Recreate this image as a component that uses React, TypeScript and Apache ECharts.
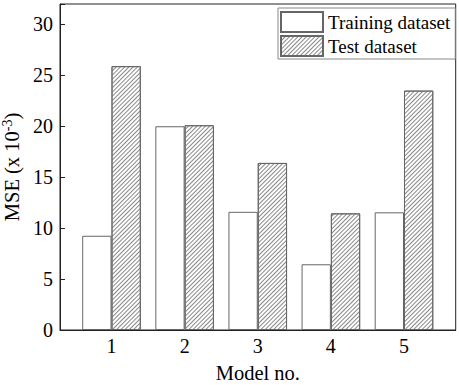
import React, { useEffect, useRef } from "react";
import * as echarts from "echarts";

const categories = ["1", "2", "3", "4", "5"];
const trainingValues = [9.25, 20.0, 11.6, 6.45, 11.55];
const testValues = [25.9, 20.1, 16.4, 11.45, 23.5];
const yTickValues = [0, 5, 10, 15, 20, 25, 30];

const FONT = "'Liberation Serif', 'Times New Roman', serif";

export default function App() {
  const ref = useRef<HTMLDivElement>(null);
  useEffect(() => {
    if (!ref.current) return;
    const chart = echarts.init(ref.current, undefined, { renderer: "svg" });
    const plotTop = 4;
    const plotHeight = 326;
    chart.setOption({
      animation: false,
      backgroundColor: "#fff",
      textStyle: { fontFamily: FONT },
      grid: [
        {
          left: 60,
          top: plotTop,
          width: 395.7,
          height: plotHeight,
          show: true,
          borderColor: "#222",
          borderWidth: 1,
          backgroundColor: "transparent",
          containLabel: false,
          outerBoundsMode: "none",
        },
        {
          left: 74.95,
          top: plotTop,
          width: 365.6,
          height: plotHeight,
          containLabel: false,
          outerBoundsMode: "none",
        },
      ],
      xAxis: [
        {
          gridIndex: 0,
          type: "value",
          min: 0,
          max: 1,
          axisLine: { show: true, lineStyle: { color: "#222", width: 1 } },
          axisTick: { show: false },
          axisLabel: { show: false },
          splitLine: { show: false },
          name: "Model no.",
          nameLocation: "middle",
          nameGap: 32.5,
          nameTextStyle: { fontSize: 20.5, color: "#000", fontFamily: FONT },
        },
        {
          gridIndex: 1,
          type: "category",
          data: categories,
          axisLine: { show: false },
          axisTick: { show: false },
          axisLabel: { margin: 6, fontSize: 20, color: "#000", fontFamily: FONT },
          splitLine: { show: false },
        },
      ],
      yAxis: [
        {
          gridIndex: 0,
          type: "value",
          min: 0,
          max: 32,
          interval: 5,
          axisLine: { show: true, lineStyle: { color: "#222", width: 1 } },
          axisTick: { show: true, inside: true, length: 5, lineStyle: { color: "#222" } },
          axisLabel: {
            margin: 7,
            fontSize: 20,
            color: "#000",
            fontFamily: FONT,
            formatter: (v: number) => (yTickValues.includes(v) ? String(v) : ""),
          },
          splitLine: { show: false },
          name: "MSE (x 10{sup|-3})",
          nameLocation: "middle",
          nameGap: 30,
          nameTextStyle: {
            fontSize: 20.5,
            color: "#000",
            fontFamily: FONT,
            rich: {
              sup: { fontSize: 14, verticalAlign: "top", color: "#000", fontFamily: FONT, padding: [0, 0, 9, 0] },
            },
          },
        },
        {
          gridIndex: 1,
          type: "value",
          min: 0,
          max: 32,
          show: false,
        },
      ],
      legend: {
        orient: "vertical",
        left: 278,
        top: 8,
        padding: [3, 5, 2, 2],
        itemWidth: 42,
        itemHeight: 20,
        itemGap: 2,
        borderColor: "#888",
        borderWidth: 1,
        icon: "rect",
        textStyle: { fontSize: 19, color: "#000", fontFamily: FONT },
        data: ["Training dataset", "Test dataset"],
      },
      series: [
        {
          name: "Training dataset",
          type: "bar",
          xAxisIndex: 1,
          yAxisIndex: 1,
          data: trainingValues,
          barWidth: 29.3,
          barGap: "0%",
          itemStyle: { color: "#fff", borderColor: "#666", borderWidth: 1 },
        },
        {
          name: "Test dataset",
          type: "bar",
          xAxisIndex: 1,
          yAxisIndex: 1,
          data: testValues,
          barWidth: 29.3,
          barGap: "0%",
          itemStyle: {
            color: "#fff",
            borderColor: "#666",
            borderWidth: 1,
            decal: {
              symbol: "rect",
              symbolSize: 1,
              color: "#888",
              backgroundColor: "#fff",
              dashArrayX: [1, 0],
              dashArrayY: [1, 2],
              rotation: -Math.PI / 4,
            },
          },
        },
      ],
    });
    return () => chart.dispose();
  }, []);
  return <div ref={ref} style={{ width: 459, height: 385, position: "absolute", left: 0, top: 0 }} />;
}
